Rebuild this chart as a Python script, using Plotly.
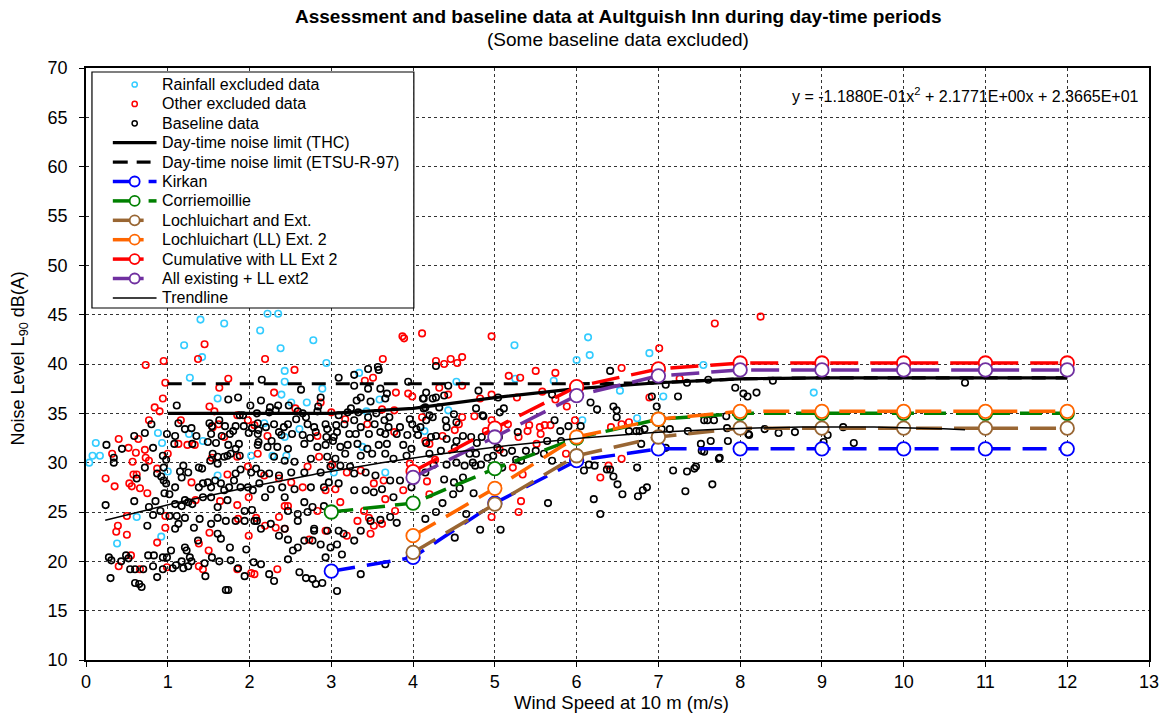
import plotly.graph_objects as go
import numpy as np

# ---------------- measured data (wind speed m/s, L90 dB(A)) ----------------
rainfall_pts = [
    (1.40, 44.5), (1.69, 44.1), (1.20, 41.9), (1.42, 40.7), (1.27, 38.6), (1.61, 36.5),
    (0.88, 33.0), (1.26, 32.9), (1.43, 32.2), (0.12, 32.0), (0.93, 32.0), (2.13, 43.4),
    (0.08, 30.7), (0.17, 30.7), (0.04, 30.0), (1.00, 29.1), (0.62, 24.5), (0.92, 22.5),
    (0.38, 21.8), (2.02, 30.7), (1.61, 28.7),
    (2.22, 45.1), (2.35, 45.1), (2.38, 41.6), (2.78, 42.4), (2.94, 40.1), (2.43, 39.3),
    (2.43, 38.2), (2.39, 36.9), (2.51, 36.1), (2.70, 36.1), (2.89, 37.5), (2.18, 34.0),
    (2.61, 33.4), (2.43, 32.6), (3.34, 39.1), (3.59, 36.4), (3.43, 35.2),
    (2.28, 30.7), (2.45, 30.7), (3.03, 29.0), (3.66, 29.0), (3.38, 31.6),
    (5.24, 41.9), (5.25, 38.5), (5.72, 38.3), (6.00, 40.4), (6.14, 42.7), (6.16, 40.9),
    (6.53, 37.3), (6.89, 41.1), (7.06, 36.7), (7.55, 39.9), (6.07, 34.3), (6.74, 34.5),
    (4.53, 38.2), (4.43, 35.3), (4.14, 33.2), (8.90, 37.1),
]

other_excluded_pts = [
    (0.73, 39.9), (0.95, 40.3), (1.45, 42.0), (1.37, 40.5), (0.97, 38.1), (1.74, 38.5),
    (1.63, 37.6), (0.94, 36.5), (0.84, 35.6), (0.90, 35.2), (1.51, 35.7), (1.57, 35.2),
    (0.77, 34.3), (1.16, 34.3), (1.62, 33.9), (1.85, 34.8), (1.98, 34.3), (0.40, 32.4),
    (0.64, 32.4), (1.55, 33.6), (1.13, 31.9), (1.69, 32.6),
    (0.52, 31.5), (0.32, 30.9), (0.61, 31.0), (0.72, 31.3), (0.73, 30.5), (0.77, 30.2),
    (0.57, 30.1), (1.00, 30.9), (1.24, 31.8), (1.33, 31.8), (1.54, 30.5), (1.85, 30.6),
    (0.87, 29.4), (0.58, 28.8), (0.62, 28.8), (0.24, 28.4), (0.35, 27.6), (0.53, 27.9),
    (0.56, 27.6), (0.66, 27.4), (0.75, 26.9), (1.29, 28.0), (1.34, 26.2), (1.64, 26.1),
    (1.85, 25.7), (1.99, 26.5), (1.73, 28.8), (1.98, 29.6), (0.50, 24.6), (0.97, 24.6),
    (0.39, 23.6), (0.37, 23.0), (0.50, 22.7), (0.97, 23.4), (0.87, 21.9), (1.38, 21.8),
    (1.51, 22.9), (1.86, 24.3), (1.99, 22.6), (1.50, 21.1), (0.55, 20.6), (0.40, 19.5),
    (0.66, 19.2), (0.99, 19.4), (1.38, 19.5), (1.43, 19.2), (1.85, 19.2), (2.02, 18.8),
    (2.08, 24.4),
    (2.19, 40.5), (2.55, 39.4), (2.30, 37.1), (2.56, 35.5), (2.87, 36.1), (3.00, 35.1),
    (3.63, 40.5), (3.87, 42.8), (3.89, 42.6), (4.11, 43.1), (3.41, 38.3), (3.51, 38.6),
    (3.79, 37.1), (3.94, 37.0), (3.99, 36.7), (3.62, 35.4), (3.77, 35.3), (3.17, 34.4),
    (3.44, 33.9), (3.77, 33.1), (4.11, 34.6), (2.06, 33.8), (2.22, 32.7), (2.83, 32.7),
    (2.18, 28.7), (2.36, 28.4), (2.51, 28.0), (2.65, 27.5), (2.71, 29.6), (2.85, 30.6),
    (3.01, 29.8), (3.19, 29.0), (3.36, 29.2), (3.52, 27.9), (3.64, 28.2), (3.66, 26.3),
    (3.88, 27.2), (3.96, 29.9), (3.05, 27.3), (2.93, 27.2), (2.43, 25.6), (2.47, 25.6),
    (2.83, 25.1), (3.11, 26.0), (3.40, 25.1), (3.32, 24.1), (3.46, 24.4), (3.52, 23.6),
    (3.78, 25.1), (2.36, 24.5), (2.32, 23.4), (2.19, 23.6), (2.43, 23.3), (2.73, 22.2),
    (2.93, 23.1), (3.19, 22.6), (3.48, 22.8), (3.62, 23.8), (2.34, 19.2), (2.06, 18.7),
    (2.10, 30.9),
    (4.96, 42.8), (4.28, 40.3), (4.38, 40.0), (4.46, 40.5), (4.54, 40.1), (4.60, 40.7),
    (4.32, 37.6), (4.60, 37.8), (5.17, 38.8), (5.31, 38.6), (5.50, 39.3), (5.74, 39.1),
    (5.58, 37.2), (5.74, 36.4), (5.27, 36.6), (4.82, 36.5), (4.96, 36.9), (4.43, 36.9),
    (4.75, 34.7), (4.96, 34.3), (4.89, 33.2), (5.16, 33.9), (5.42, 33.8), (5.55, 33.6),
    (5.61, 33.8), (5.68, 33.8), (5.56, 32.9), (5.40, 33.2), (5.29, 32.6), (5.51, 31.9),
    (5.88, 35.7), (5.98, 34.3), (5.87, 30.9), (6.42, 33.6), (6.55, 33.9), (6.64, 34.1),
    (6.39, 29.7), (6.55, 30.4), (6.29, 28.5), (6.89, 36.6), (7.01, 41.6), (7.69, 44.1),
    (8.25, 44.8), (6.55, 39.6), (7.26, 38.5), (4.15, 32.2), (4.20, 31.9), (4.17, 28.1),
    (4.20, 26.8), (5.34, 28.8), (5.06, 31.3), (5.22, 29.5), (5.32, 26.1), (5.29, 25.0),
    (4.96, 24.5), (4.36, 32.7), (4.56, 33.9), (4.27, 30.3), (4.60, 34.6), (4.51, 33.3),
]

baseline_pts = [
    # 0 - 2 m/s, upper
    (1.11, 35.8), (1.74, 36.4), (1.86, 36.6), (2.01, 35.8), (1.88, 34.8), (1.92, 34.8),
    (0.80, 33.9), (0.72, 33.0), (0.59, 32.7), (0.99, 32.9), (1.13, 34.0), (1.21, 33.4),
    (1.29, 33.5), (1.09, 32.7), (1.51, 34.0), (1.54, 33.7), (1.63, 34.3), (1.70, 33.7),
    (1.83, 33.7), (1.93, 33.7), (2.03, 33.5), (2.10, 34.0), (1.35, 32.7), (1.53, 32.9),
    (1.66, 32.7), (1.76, 32.9), (1.80, 33.2), (1.99, 33.0), (2.10, 32.9), (0.25, 31.8),
    (1.08, 31.9), (1.30, 31.9), (1.49, 32.1), (1.59, 32.0), (1.87, 31.9),
    # 0 - 2 m/s, lower
    (0.34, 30.5), (0.34, 30.0), (0.44, 31.4), (0.82, 31.5), (0.94, 30.7), (0.98, 30.3),
    (0.95, 29.5), (0.72, 29.5), (0.87, 28.9), (0.92, 28.6), (0.95, 28.2), (0.98, 27.9),
    (1.19, 29.7), (1.15, 29.1), (1.25, 29.0), (1.38, 29.5), (1.42, 29.4), (1.52, 30.2),
    (1.55, 30.9), (1.61, 30.6), (1.69, 30.6), (1.73, 30.7), (1.77, 30.9), (1.83, 31.4),
    (1.88, 30.7), (1.74, 31.8), (1.61, 29.9), (1.89, 29.3), (2.02, 29.0), (2.08, 29.4),
    (0.62, 28.4), (0.59, 26.1), (0.24, 25.7), (0.85, 26.1), (0.96, 26.9), (1.02, 26.8),
    (1.09, 27.5), (1.17, 28.5), (1.09, 25.8), (1.17, 25.6), (1.21, 26.2), (1.25, 26.0),
    (1.30, 25.8), (1.38, 27.5), (1.43, 27.9), (1.49, 28.0), (1.53, 27.5), (1.58, 28.2),
    (1.65, 27.9), (1.69, 27.2), (1.75, 27.5), (1.81, 28.2), (1.83, 28.9), (1.89, 27.5),
    (1.98, 27.5), (2.04, 27.2), (1.43, 26.5), (1.53, 26.5), (1.61, 25.5), (1.73, 26.2),
    (1.94, 25.1), (2.03, 25.2), (0.77, 25.5), (0.82, 24.7), (0.91, 25.1), (1.02, 24.6),
    (1.11, 24.6), (1.21, 24.4), (1.13, 23.8), (1.09, 23.3), (0.75, 23.6), (1.32, 23.4),
    (1.39, 24.3), (1.53, 23.8), (1.61, 24.4), (1.71, 24.1), (1.83, 24.1), (1.94, 24.1),
    (2.06, 24.1), (1.61, 22.8), (1.65, 22.3), (1.76, 21.4), (1.96, 21.2), (1.21, 21.4),
    (1.23, 21.1), (1.27, 20.4), (1.37, 22.1), (1.04, 21.1), (0.99, 20.4), (0.94, 20.4),
    (0.76, 20.6), (0.83, 20.6), (0.49, 20.6), (0.52, 20.3), (0.28, 20.4), (0.31, 20.1),
    (0.43, 20.0), (0.54, 19.2), (0.60, 19.2), (0.70, 19.2), (0.82, 19.5), (0.87, 18.4),
    (0.94, 19.2), (1.06, 19.3), (1.10, 19.6), (1.17, 20.0), (1.19, 19.3), (1.25, 19.5),
    (1.29, 20.0), (1.45, 19.8), (1.54, 20.4), (1.63, 20.0), (1.77, 20.1), (1.86, 19.3),
    (2.05, 19.9), (0.30, 18.3), (0.60, 17.8), (0.65, 17.7), (0.68, 17.4), (1.71, 17.1),
    (1.74, 17.1), (1.46, 18.5), (1.94, 18.5),
    # 2 - 4 m/s, upper
    (2.15, 38.4), (2.63, 37.4), (2.14, 36.3), (2.25, 35.6), (2.35, 35.8), (2.48, 35.8),
    (2.84, 35.7), (2.87, 36.6), (2.83, 35.2), (2.09, 35.0), (2.24, 35.1), (2.32, 35.3),
    (2.59, 35.2), (2.65, 35.0), (2.69, 34.6), (2.42, 33.6), (2.47, 33.9), (2.57, 34.4),
    (2.71, 33.9), (2.79, 33.6), (2.81, 33.1), (2.93, 33.9), (2.95, 33.4), (3.06, 33.8),
    (2.11, 33.3), (2.20, 33.6), (2.30, 33.9), (2.36, 33.1), (2.52, 32.9), (2.65, 32.8),
    (2.74, 32.5), (2.11, 32.1), (2.27, 32.2), (2.39, 32.8), (3.03, 32.6), (3.09, 38.6),
    (3.28, 38.9), (3.45, 39.5), (3.57, 39.7), (3.58, 39.4), (3.28, 37.8), (3.45, 37.5),
    (3.60, 37.5), (3.36, 36.6), (3.31, 36.3), (3.68, 37.0), (3.66, 36.5), (3.48, 36.2),
    (3.24, 35.5), (3.20, 35.1), (3.09, 34.8), (3.33, 35.1), (3.45, 34.6), (3.55, 35.0),
    (3.71, 34.6), (3.65, 34.3), (3.16, 33.9), (3.28, 34.3), (3.36, 33.6), (3.53, 33.9),
    (3.70, 33.6), (3.84, 33.6), (3.96, 34.4), (3.99, 33.9), (4.04, 33.4), (4.09, 33.6),
    (4.13, 36.5), (4.13, 35.5), (3.94, 38.2), (3.07, 33.1), (3.22, 32.9), (3.30, 32.9),
    (3.46, 32.9), (3.60, 33.1), (3.66, 32.9), (3.80, 32.9), (3.93, 32.8), (4.06, 32.8),
    (3.02, 32.2), (2.94, 32.6),
    # 2 - 4 m/s, lower
    (2.10, 31.8), (2.22, 31.6), (2.34, 31.6), (2.47, 31.4), (2.67, 31.9), (2.83, 31.6),
    (2.93, 31.8), (3.11, 31.6), (3.20, 31.8), (3.32, 31.9), (3.44, 31.4), (3.58, 31.8),
    (3.68, 31.9), (3.88, 31.8), (3.98, 31.4), (2.30, 30.6), (2.43, 30.2), (2.55, 30.1),
    (2.75, 30.4), (2.95, 30.6), (3.05, 30.4), (3.17, 30.9), (3.36, 30.7), (3.50, 30.9),
    (3.66, 30.9), (3.76, 30.4), (3.92, 30.7), (2.14, 28.9), (2.24, 28.9), (2.36, 28.7),
    (2.51, 29.0), (2.67, 29.0), (2.87, 29.0), (2.99, 29.6), (3.11, 29.7), (3.23, 29.6),
    (3.28, 28.9), (3.42, 29.0), (3.54, 28.7), (3.72, 28.2), (3.84, 28.2), (3.98, 27.5),
    (2.12, 27.9), (2.26, 27.3), (2.40, 27.5), (2.55, 27.3), (2.75, 27.5), (2.91, 27.5),
    (2.97, 28.0), (3.09, 27.9), (3.28, 27.2), (3.42, 27.2), (3.52, 27.0), (3.62, 27.3),
    (3.76, 26.5), (2.19, 26.5), (2.43, 26.5), (2.67, 26.0), (2.77, 25.5), (2.91, 25.6),
    (2.47, 25.1), (2.59, 24.8), (2.71, 25.0), (2.09, 24.1), (2.14, 23.3), (2.26, 23.8),
    (2.43, 23.3), (2.59, 24.1), (2.79, 23.3), (2.95, 23.1), (3.09, 23.1), (3.15, 22.8),
    (3.28, 22.1), (3.36, 23.1), (3.48, 24.1), (3.60, 24.2), (3.72, 24.5), (3.80, 23.9),
    (2.36, 22.6), (2.47, 22.2), (2.59, 21.4), (2.53, 21.1), (2.67, 22.1), (2.77, 22.1),
    (2.87, 21.7), (2.99, 21.4), (3.07, 21.7), (3.13, 20.7), (2.93, 20.4), (2.79, 23.1),
    (2.47, 20.2), (2.14, 19.7), (2.24, 18.7), (2.30, 18.0), (2.61, 18.9), (2.69, 18.3),
    (2.77, 18.2), (2.81, 17.7), (2.89, 17.8), (3.07, 17.0), (3.36, 18.7), (3.66, 19.7),
    # above 4 m/s
    (4.28, 39.8), (4.43, 37.8), (4.80, 37.3), (5.04, 36.6), (5.70, 36.9), (5.80, 33.2),
    (5.90, 33.7), (6.05, 33.7), (6.17, 36.1), (6.25, 35.4), (6.45, 35.7), (6.49, 35.3),
    (6.49, 34.6), (6.41, 39.3), (4.77, 35.5), (4.86, 34.7), (5.11, 35.5), (5.06, 35.1),
    (5.28, 33.1), (5.64, 32.2), (5.73, 34.3), (5.81, 32.2), (5.50, 31.2), (5.60, 30.9),
    (5.70, 30.2), (6.15, 29.8), (6.22, 29.7), (6.37, 29.3), (6.41, 29.3), (6.45, 28.6),
    (6.50, 27.8), (6.56, 26.8), (6.09, 29.2), (6.21, 26.3), (6.29, 24.8), (6.74, 29.5),
    (6.75, 26.6), (6.81, 27.2), (6.86, 27.5), (6.98, 35.7), (6.92, 36.7), (6.92, 38.3),
    (7.09, 37.9), (7.24, 36.7), (7.35, 38.1), (7.61, 38.4), (7.94, 37.6), (8.04, 37.0),
    (8.09, 36.7), (8.20, 37.1), (8.40, 38.3), (10.75, 38.1), (7.04, 33.4), (7.14, 33.4),
    (7.18, 29.2), (7.35, 29.1), (7.44, 29.4), (7.33, 27.1), (7.66, 27.8), (7.74, 30.4),
    (7.56, 31.1), (7.52, 31.9), (7.36, 33.2), (7.56, 34.3), (7.60, 34.3), (7.68, 34.3),
    (7.84, 33.5), (8.11, 32.8), (6.64, 33.2), (6.73, 33.2), (6.77, 33.2), (6.83, 33.4),
    (7.09, 31.5), (6.79, 31.9), (5.65, 25.9), (5.07, 23.2), (4.82, 23.2), (4.51, 22.4),
    (4.65, 24.8), (4.36, 25.9), (4.28, 25.0), (4.15, 24.3), (4.74, 26.9), (4.49, 26.8),
    (4.50, 28.0), (4.57, 27.4), (4.38, 28.3), (4.15, 29.0), (4.25, 29.8), (4.41, 29.8),
    (4.53, 30.0), (4.63, 29.7), (4.73, 30.0), (4.76, 29.7), (4.61, 28.5), (4.91, 30.5),
    (4.98, 30.7), (5.09, 29.5), (5.26, 30.3), (5.32, 30.2), (5.38, 31.2), (5.21, 31.2),
    (5.11, 31.0), (5.03, 31.5), (4.84, 32.6), (4.71, 32.6), (4.78, 32.0), (4.61, 32.7),
    (4.53, 32.2), (4.41, 32.4), (4.28, 32.7), (4.22, 32.6), (4.16, 32.0), (4.51, 31.5),
    (4.34, 31.2), (4.20, 30.9), (4.16, 34.3), (4.24, 34.6), (4.40, 34.3), (4.50, 34.9),
    (4.53, 34.1), (4.41, 33.6), (4.32, 35.6), (4.20, 34.8), (4.15, 35.6), (4.24, 36.5),
    (4.28, 36.6), (4.38, 36.8), (4.16, 37.1), (4.12, 36.5), (4.85, 34.8), (5.05, 32.6),
    (4.83, 29.8), (4.77, 30.9), (4.69, 30.9),
    (9.26, 33.6), (9.07, 32.8), (9.02, 32.1), (9.39, 32.0), (8.67, 33.1), (8.47, 33.0),
    (8.30, 33.4), (8.10, 32.9), (7.83, 34.7), (7.75, 30.5), (7.53, 31.2), (7.85, 32.2),
    (7.64, 32.2), (7.46, 29.6),
]

# ---------------- noise limits and predictions ----------------
limit_ws = [1, 2, 3, 4, 5, 6, 7, 8, 9, 10, 11, 12]
thc_limit = [35.0, 35.0, 35.0, 35.5, 36.6, 37.5, 38.1, 38.5, 38.6, 38.6, 38.6, 38.6]
etsu_limit = [38.0, 38.0, 38.0, 38.0, 38.0, 38.0, 38.1, 38.5, 38.6, 38.6, 38.6, 38.6]

ws_from3 = [3, 4, 5, 6, 7, 8, 9, 10, 11, 12]
ws_from4 = [4, 5, 6, 7, 8, 9, 10, 11, 12]
kirkan = [19.0, 20.4, 25.9, 30.2, 31.4, 31.4, 31.4, 31.4, 31.4, 31.4]
corriemoillie = [25.0, 25.9, 29.4, 32.5, 34.4, 35.0, 35.0, 35.0, 35.0, 35.0]
lochluichart_ext = [20.9, 25.8, 30.7, 32.6, 33.5, 33.5, 33.5, 33.5, 33.5]
lochluichart_ext2 = [22.6, 27.4, 32.6, 34.4, 35.2, 35.2, 35.2, 35.2, 35.2]
cumulative_ll2 = [29.1, 33.5, 37.7, 39.5, 40.1, 40.1, 40.1, 40.1, 40.1]
all_existing_ll2 = [28.5, 32.6, 36.8, 38.8, 39.4, 39.4, 39.4, 39.4, 39.4]

# polynomial trendline coefficients of the baseline data (y = a x^2 + b x + c)
trend_a, trend_b, trend_c = -1.1880e-01, 2.1771e+00, 2.3665e+01
trend_x_range = [0.235, 10.75]

FONT = "Arial, 'Liberation Sans', sans-serif"

# plot-area geometry in pixels (used to place the hand-built legend box)
FIG_W, FIG_H = 1171, 713
PLOT_L, PLOT_R, PLOT_T, PLOT_B = 86, 1156, 68, 660


def px_x(px):
    return (px - PLOT_L) / (PLOT_R - PLOT_L)


def px_y(py):
    return (PLOT_B - py) / (PLOT_B - PLOT_T)


def unzip(pts):
    return [p[0] for p in pts], [p[1] for p in pts]


fig = go.Figure()

scatter_groups = [
    ("Rainfall excluded data", rainfall_pts, "#33CCFF"),
    ("Other excluded data", other_excluded_pts, "#FF0000"),
    ("Baseline data", baseline_pts, "#000000"),
]
for name, pts, col in scatter_groups:
    xs, ys = unzip(pts)
    fig.add_trace(go.Scatter(
        x=xs, y=ys, mode="markers", name=name, showlegend=False,
        marker=dict(symbol="circle-open", size=6.5, color=col, line=dict(width=1.6, color=col)),
    ))

fig.add_trace(go.Scatter(
    x=limit_ws, y=thc_limit, mode="lines", name="Day-time noise limit (THC)", showlegend=False,
    line=dict(color="black", width=3.2),
))
fig.add_trace(go.Scatter(
    x=limit_ws, y=etsu_limit, mode="lines", name="Day-time noise limit (ETSU-R-97)",
    showlegend=False, line=dict(color="black", width=3.2, dash="14px,10px"),
))

series = [
    ("Kirkan", ws_from3, kirkan, "#0000FF", "24px,12px", True),
    ("Corriemoillie", ws_from3, corriemoillie, "#008000", "22px,10px", True),
    ("Lochluichart and Ext.", ws_from4, lochluichart_ext, "#996633", "26px,12px", False),
    ("Lochluichart (LL) Ext. 2", ws_from4, lochluichart_ext2, "#FF6600", "26px,12px", False),
    ("Cumulative with LL Ext 2", ws_from4, cumulative_ll2, "#FF0000", "28px,12px", False),
    ("All existing + LL ext2", ws_from4, all_existing_ll2, "#7030A0", "28px,12px", False),
]
for name, xs, ys, col, dash, _ in series:
    fig.add_trace(go.Scatter(
        x=xs, y=ys, mode="lines+markers", name=name, showlegend=False,
        line=dict(color=col, width=3.5, dash=dash),
        marker=dict(symbol="circle", size=13.5, color="white", line=dict(color=col, width=1.8)),
    ))

trend_x = np.linspace(trend_x_range[0], trend_x_range[1], 200)
trend_y = trend_a * trend_x ** 2 + trend_b * trend_x + trend_c
fig.add_trace(go.Scatter(
    x=trend_x, y=trend_y, mode="lines", name="Trendline", showlegend=False,
    line=dict(color="black", width=1.5),
))

# ---------------- legend box (shapes + text) ----------------
shapes = []
annotations = []

LEG_L, LEG_R, LEG_T, LEG_B = 92, 416, 72, 308
ROW0, ROW_H = 84.5, 19.4
SYM_L, SYM_R, SYM_MID, TEXT_X = 113, 157, 135, 160

shapes.append(dict(type="rect", xref="paper", yref="paper", layer="above",
                   x0=px_x(LEG_L), x1=px_x(LEG_R), y0=px_y(LEG_B), y1=px_y(LEG_T),
                   line=dict(color="black", width=1.2), fillcolor="white"))


def seg(x0, x1, yc, color, width, dash="solid"):
    shapes.append(dict(type="line", xref="paper", yref="paper", layer="above",
                       x0=px_x(x0), x1=px_x(x1), y0=px_y(yc), y1=px_y(yc),
                       line=dict(color=color, width=width, dash=dash)))


def circ(xc, yc, r, color, width, fill):
    shapes.append(dict(type="circle", xref="paper", yref="paper", layer="above",
                       xsizemode="pixel", ysizemode="pixel",
                       xanchor=px_x(xc), yanchor=px_y(yc), x0=-r, x1=r, y0=-r, y1=r,
                       line=dict(color=color, width=width), fillcolor=fill))


legend_rows = []
for name, _, col in scatter_groups:
    legend_rows.append((name, "dot", col))
legend_rows.append(("Day-time noise limit (THC)", "solid", "black"))
legend_rows.append(("Day-time noise limit (ETSU-R-97)", "dashed", "black"))
for name, _, _, col, _, split in series:
    legend_rows.append((name, "split" if split else "line_marker", col))
legend_rows.append(("Trendline", "thin", "black"))

for i, (name, kind, col) in enumerate(legend_rows):
    yc = ROW0 + i * ROW_H
    if kind == "dot":
        circ(SYM_MID, yc, 2.6, col, 1.5, "white")
    elif kind == "solid":
        seg(SYM_L, SYM_R, yc, col, 3.2)
    elif kind == "dashed":
        seg(SYM_L, 128, yc, col, 3.2)
        seg(137, 151, yc, col, 3.2)
    elif kind == "split":
        seg(SYM_L, 140, yc, col, 3.5)
        seg(149, SYM_R, yc, col, 3.5)
        circ(SYM_MID, yc, 5, col, 1.8, "white")
    elif kind == "line_marker":
        seg(SYM_L, 144, yc, col, 3.5)
        circ(SYM_MID, yc, 5, col, 1.8, "white")
    else:
        seg(SYM_L, SYM_R, yc, col, 1.5)
    annotations.append(dict(text=name, x=px_x(TEXT_X), y=px_y(yc), xref="paper", yref="paper",
                            showarrow=False, xanchor="left", yanchor="middle",
                            font=dict(family=FONT, size=16, color="black")))

axis_common = dict(
    showline=True, linecolor="black", linewidth=1.5, mirror=True,
    ticks="outside", ticklen=5, tickcolor="black",
    showgrid=True, gridcolor="#333333", gridwidth=1, griddash="dot",
    zeroline=False, tickfont=dict(family=FONT, size=18, color="black"),
)

fig.update_layout(
    width=FIG_W, height=FIG_H,
    margin=dict(l=PLOT_L, r=FIG_W - PLOT_R, t=PLOT_T, b=FIG_H - PLOT_B),
    paper_bgcolor="white", plot_bgcolor="white",
    font=dict(family=FONT, color="black"),
    xaxis=dict(range=[0, 13], dtick=1, tick0=0, ticklabelstandoff=0, **axis_common),
    yaxis=dict(range=[10, 70], dtick=5, tick0=10, ticklabelstandoff=8, **axis_common),
    showlegend=False,
)

annotations += [
    dict(text="<b>Assessment and baseline data at Aultguish Inn during day-time periods</b>",
         x=0.5, y=px_y(17), xref="paper", yref="paper", showarrow=False,
         font=dict(family=FONT, size=19, color="black"), xanchor="center", yanchor="middle"),
    dict(text="(Some baseline data excluded)",
         x=0.5, y=px_y(40), xref="paper", yref="paper", showarrow=False,
         font=dict(family=FONT, size=19, color="black"), xanchor="center", yanchor="middle"),
    dict(text="Wind Speed at 10 m (m/s)",
         x=px_x(625), y=px_y(702), xref="paper", yref="paper", showarrow=False,
         font=dict(family=FONT, size=18.5, color="black"), xanchor="center", yanchor="middle"),
    dict(text="Noise Level L<sub>90</sub> dB(A)",
         x=px_x(19), y=px_y(358), xref="paper", yref="paper", showarrow=False, textangle=-90,
         font=dict(family=FONT, size=18, color="black"), xanchor="center", yanchor="middle"),
    dict(text="y = -1.1880E-01x<sup>2</sup> + 2.1771E+00x + 2.3665E+01",
         x=px_x(1148), y=px_y(95), xref="paper", yref="paper", showarrow=False,
         font=dict(family=FONT, size=16, color="black"), xanchor="right", yanchor="middle"),
]
fig.update_layout(shapes=shapes, annotations=annotations)

fig.write_html("out.html")
